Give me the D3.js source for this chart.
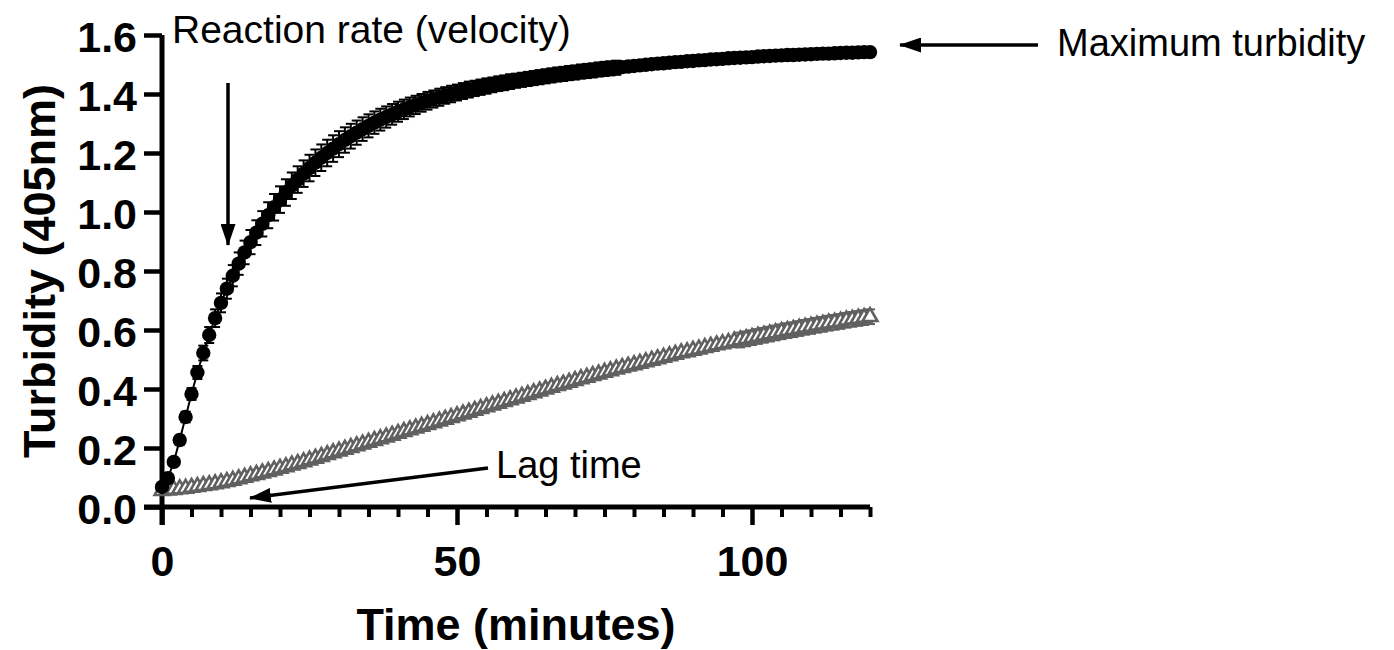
<!DOCTYPE html>
<html>
<head>
<meta charset="utf-8">
<script src="https://cdn.jsdelivr.net/npm/d3@7"></script>
<style>
    body { margin: 0; background: #fff; }
    svg { display: block; font-family: "Liberation Sans", Arial, sans-serif; }
</style>
</head>
<body>
<div id="chart"></div>
<script>
// time points, one reading per minute
var minutes = d3.range(0, 121);

// black filled circles (mean turbidity)
var fastMean = [
    0.068, 0.098, 0.153, 0.227, 0.305, 0.383, 0.456, 0.522, 0.583, 0.640,
    0.692, 0.740, 0.784, 0.825, 0.863, 0.898, 0.930, 0.960, 0.989, 1.016,
    1.042, 1.066, 1.089, 1.110, 1.130, 1.149, 1.167, 1.184, 1.200, 1.215,
    1.230, 1.244, 1.257, 1.269, 1.281, 1.292, 1.303, 1.313, 1.322, 1.331,
    1.340, 1.348, 1.356, 1.363, 1.370, 1.377, 1.383, 1.389, 1.395, 1.400,
    1.405, 1.410, 1.415, 1.419, 1.423, 1.427, 1.431, 1.435, 1.438, 1.442,
    1.445, 1.448, 1.451, 1.454, 1.457, 1.460, 1.463, 1.466, 1.468, 1.471,
    1.473, 1.476, 1.478, 1.480, 1.483, 1.485, 1.487, 1.489, 1.491, 1.493,
    1.495, 1.497, 1.499, 1.501, 1.503, 1.504, 1.506, 1.508, 1.509, 1.511,
    1.512, 1.514, 1.515, 1.517, 1.518, 1.519, 1.521, 1.522, 1.523, 1.524,
    1.525, 1.527, 1.528, 1.529, 1.530, 1.531, 1.532, 1.532, 1.533, 1.534,
    1.535, 1.536, 1.537, 1.537, 1.538, 1.539, 1.540, 1.540, 1.541, 1.542,
    1.542
];
var fastSem = [
    0.008, 0.010, 0.012, 0.015, 0.018, 0.020, 0.022, 0.025, 0.027, 0.030,
    0.032, 0.034, 0.036, 0.038, 0.040, 0.041, 0.042, 0.043, 0.044, 0.045,
    0.045, 0.045, 0.045, 0.045, 0.045, 0.045, 0.045, 0.045, 0.045, 0.045,
    0.044, 0.043, 0.042, 0.041, 0.040, 0.039, 0.038, 0.037, 0.036, 0.035,
    0.034, 0.033, 0.032, 0.031, 0.030, 0.030, 0.029, 0.029, 0.028, 0.028,
    0.027, 0.027, 0.027, 0.026, 0.026, 0.026, 0.025, 0.025, 0.025, 0.025,
    0.024, 0.024, 0.024, 0.024, 0.024, 0.024, 0.024, 0.024, 0.024, 0.024,
    0.024, 0.024, 0.024, 0.024, 0.024, 0.024, 0.024, 0.024, 0.012, 0.012,
    0.012, 0.012, 0.012, 0.012, 0.012, 0.012, 0.012, 0.012, 0.012, 0.012,
    0.012, 0.012, 0.012, 0.012, 0.012, 0.012, 0.012, 0.012, 0.012, 0.012,
    0.012, 0.012, 0.012, 0.012, 0.012, 0.012, 0.012, 0.012, 0.012, 0.012,
    0.012, 0.012, 0.012, 0.012, 0.012, 0.012, 0.012, 0.012, 0.012, 0.012,
    0.012
];

// grey open triangles (mean turbidity)
var slowMean = [
    0.055, 0.057, 0.059, 0.061, 0.063, 0.066, 0.069, 0.072, 0.075, 0.078,
    0.082, 0.086, 0.090, 0.095, 0.100, 0.105, 0.110, 0.115, 0.120, 0.125,
    0.131, 0.136, 0.142, 0.147, 0.153, 0.159, 0.165, 0.171, 0.177, 0.183,
    0.189, 0.195, 0.201, 0.207, 0.213, 0.219, 0.225, 0.231, 0.237, 0.243,
    0.249, 0.255, 0.261, 0.267, 0.273, 0.279, 0.285, 0.291, 0.297, 0.303,
    0.309, 0.315, 0.321, 0.327, 0.333, 0.339, 0.345, 0.351, 0.357, 0.363,
    0.369, 0.375, 0.381, 0.387, 0.393, 0.399, 0.405, 0.411, 0.416, 0.422,
    0.428, 0.434, 0.439, 0.445, 0.450, 0.456, 0.461, 0.467, 0.472, 0.477,
    0.482, 0.487, 0.492, 0.497, 0.502, 0.507, 0.512, 0.517, 0.522, 0.526,
    0.531, 0.535, 0.540, 0.544, 0.549, 0.553, 0.557, 0.562, 0.566, 0.570,
    0.574, 0.578, 0.582, 0.586, 0.590, 0.594, 0.598, 0.601, 0.605, 0.609,
    0.612, 0.616, 0.619, 0.623, 0.626, 0.629, 0.633, 0.636, 0.639, 0.642,
    0.645
];
var slowSem = [
    0.006, 0.006, 0.006, 0.006, 0.006, 0.006, 0.006, 0.006, 0.006, 0.006,
    0.006, 0.006, 0.006, 0.006, 0.006, 0.006, 0.006, 0.006, 0.006, 0.006,
    0.006, 0.006, 0.006, 0.006, 0.006, 0.006, 0.006, 0.006, 0.006, 0.006,
    0.006, 0.006, 0.006, 0.006, 0.006, 0.006, 0.006, 0.006, 0.006, 0.006,
    0.006, 0.006, 0.006, 0.006, 0.006, 0.006, 0.006, 0.006, 0.006, 0.006,
    0.006, 0.006, 0.006, 0.006, 0.006, 0.006, 0.006, 0.006, 0.006, 0.006,
    0.006, 0.006, 0.006, 0.006, 0.006, 0.006, 0.006, 0.006, 0.006, 0.006,
    0.006, 0.006, 0.006, 0.006, 0.006, 0.006, 0.006, 0.006, 0.006, 0.006,
    0.006, 0.006, 0.006, 0.006, 0.006, 0.006, 0.006, 0.006, 0.006, 0.006,
    0.006, 0.006, 0.006, 0.006, 0.006, 0.006, 0.006, 0.006, 0.025, 0.025,
    0.025, 0.025, 0.025, 0.025, 0.025, 0.025, 0.025, 0.025, 0.025, 0.025,
    0.025, 0.025, 0.025, 0.025, 0.025, 0.025, 0.025, 0.025, 0.025, 0.025,
    0.025
];

var yTicks = [0, 0.2, 0.4, 0.6, 0.8, 1.0, 1.2, 1.4, 1.6];
var xTicks = [0, 50, 100];
var xMinorTicks = [5, 10, 15, 20, 25, 30, 35, 40, 45, 55, 60, 65, 70, 75, 80, 85, 90, 95, 105, 110, 115, 120];

var svg = d3.select("#chart")
    .append("svg")
    .attr("width", 1394)
    .attr("height", 650);

var x = d3.scaleLinear().domain([0, 120]).range([162, 870]);
var y = d3.scaleLinear().domain([0, 1.6]).range([507, 35]);

var majorLen = 18;

function toRows(mean, sem) {
    return minutes.map(function(t, i) { return { t: t, v: mean[i], e: sem[i] }; });
}
var fast = toRows(fastMean, fastSem);
var slow = toRows(slowMean, slowSem);

//arrow head marker
svg.append("defs").append("marker")
    .attr("id", "head")
    .attr("markerUnits", "userSpaceOnUse")
    .attr("viewBox", "0 0 22 15")
    .attr("markerWidth", 22)
    .attr("markerHeight", 15)
    .attr("refX", 21)
    .attr("refY", 7.5)
    .attr("orient", "auto")
    .append("path")
    .attr("d", "M0,0 L22,7.5 L0,15 Z")
    .attr("fill", "#000");

//axes
var yAxis = svg.append("g")
    .attr("transform", "translate(" + x(0) + ",0)")
    .call(d3.axisLeft(y).tickValues(yTicks).tickSize(majorLen).tickSizeOuter(0)
        .tickPadding(7).tickFormat(d3.format(".1f")));
yAxis.select(".domain")
    .attr("d", "M0," + (y(0) + majorLen) + "V" + y(1.6));

var xAxis = svg.append("g")
    .attr("transform", "translate(0," + y(0) + ")")
    .call(d3.axisBottom(x).tickValues(xTicks).tickSize(majorLen).tickSizeOuter(0)
        .tickPadding(20).tickFormat(d3.format("d")));
xAxis.select(".domain")
    .attr("d", "M" + (x(0) - majorLen) + ",0H" + x(120));

svg.append("g")
    .attr("transform", "translate(0," + y(0) + ")")
    .call(d3.axisBottom(x).tickValues(xMinorTicks).tickSize(10).tickFormat(""))
    .call(function(g) { g.select(".domain").remove(); })
    .selectAll("line").attr("stroke-width", 4);

svg.selectAll(".domain").attr("stroke", "#000").attr("stroke-width", 5);
yAxis.selectAll(".tick line").attr("stroke", "#000").attr("stroke-width", 4.5);
xAxis.selectAll(".tick line").attr("stroke", "#000").attr("stroke-width", 4.5);
svg.selectAll(".tick text")
    .attr("fill", "#000")
    .style("font-size", "43px")
    .style("font-weight", "bold")
    .style("font-family", "'Liberation Sans', Arial, sans-serif");
yAxis.selectAll(".tick text").attr("dy", "0.39em");

//axis titles
svg.append("text")
    .attr("x", (x(0) + x(120)) / 2)
    .attr("y", 640)
    .attr("text-anchor", "middle")
    .style("font-size", "45px")
    .style("font-weight", "bold")
    .text("Time (minutes)");

svg.append("text")
    .attr("transform", "translate(55," + ((y(0) + y(1.6)) / 2) + ") rotate(-90)")
    .attr("text-anchor", "middle")
    .style("font-size", "45px")
    .style("font-weight", "bold")
    .text("Turbidity (405nm)");

//series
var line = d3.line()
    .x(function(d) { return x(d.t); })
    .y(function(d) { return y(d.v); });

function drawErrors(rows, color) {
    var g = svg.append("g").attr("stroke", color).attr("stroke-width", 2);
    g.selectAll("line.bar")
        .data(rows)
        .enter()
        .append("line")
        .attr("x1", function(d) { return x(d.t); })
        .attr("x2", function(d) { return x(d.t); })
        .attr("y1", function(d) { return y(d.v - d.e); })
        .attr("y2", function(d) { return y(d.v + d.e); });
    g.selectAll("line.cap-hi")
        .data(rows)
        .enter()
        .append("line")
        .attr("x1", function(d) { return x(d.t) - 5; })
        .attr("x2", function(d) { return x(d.t) + 5; })
        .attr("y1", function(d) { return y(d.v + d.e); })
        .attr("y2", function(d) { return y(d.v + d.e); });
    g.selectAll("line.cap-lo")
        .data(rows)
        .enter()
        .append("line")
        .attr("x1", function(d) { return x(d.t) - 5; })
        .attr("x2", function(d) { return x(d.t) + 5; })
        .attr("y1", function(d) { return y(d.v - d.e); })
        .attr("y2", function(d) { return y(d.v - d.e); });
}

//grey triangles first, circles drawn on top
svg.append("path")
    .datum(slow)
    .attr("d", line)
    .attr("fill", "none")
    .attr("stroke", "#606060")
    .attr("stroke-width", 2);
drawErrors(slow, "#606060");
svg.append("g").selectAll("path")
    .data(slow)
    .enter()
    .append("path")
    .attr("d", d3.symbol().type(d3.symbolTriangle).size(95))
    .attr("transform", function(d) { return "translate(" + x(d.t) + "," + y(d.v) + ")"; })
    .attr("fill", "#fff")
    .attr("stroke", "#606060")
    .attr("stroke-width", 2.6);

svg.append("path")
    .datum(fast)
    .attr("d", line)
    .attr("fill", "none")
    .attr("stroke", "#000")
    .attr("stroke-width", 2);
drawErrors(fast, "#000");
svg.append("g").selectAll("circle")
    .data(fast)
    .enter()
    .append("circle")
    .attr("cx", function(d) { return x(d.t); })
    .attr("cy", function(d) { return y(d.v); })
    .attr("r", 7.2)
    .attr("fill", "#000");

//annotations
function note(label, size, tx, ty, x1, y1, x2, y2) {
    svg.append("text")
        .attr("x", tx)
        .attr("y", ty)
        .style("font-size", size + "px")
        .attr("fill", "#000")
        .text(label);
    svg.append("line")
        .attr("x1", x1).attr("y1", y1)
        .attr("x2", x2).attr("y2", y2)
        .attr("stroke", "#000")
        .attr("stroke-width", 3.5)
        .attr("marker-end", "url(#head)");
}

note("Reaction rate (velocity)", 39, 172, 43, 228, 83, 228, 245);
note("Maximum turbidity", 38, 1057, 56, 1038, 45, 900, 45);
note("Lag time", 38, 496, 478, 488, 468, 250, 498);
</script>
</body>
</html>
